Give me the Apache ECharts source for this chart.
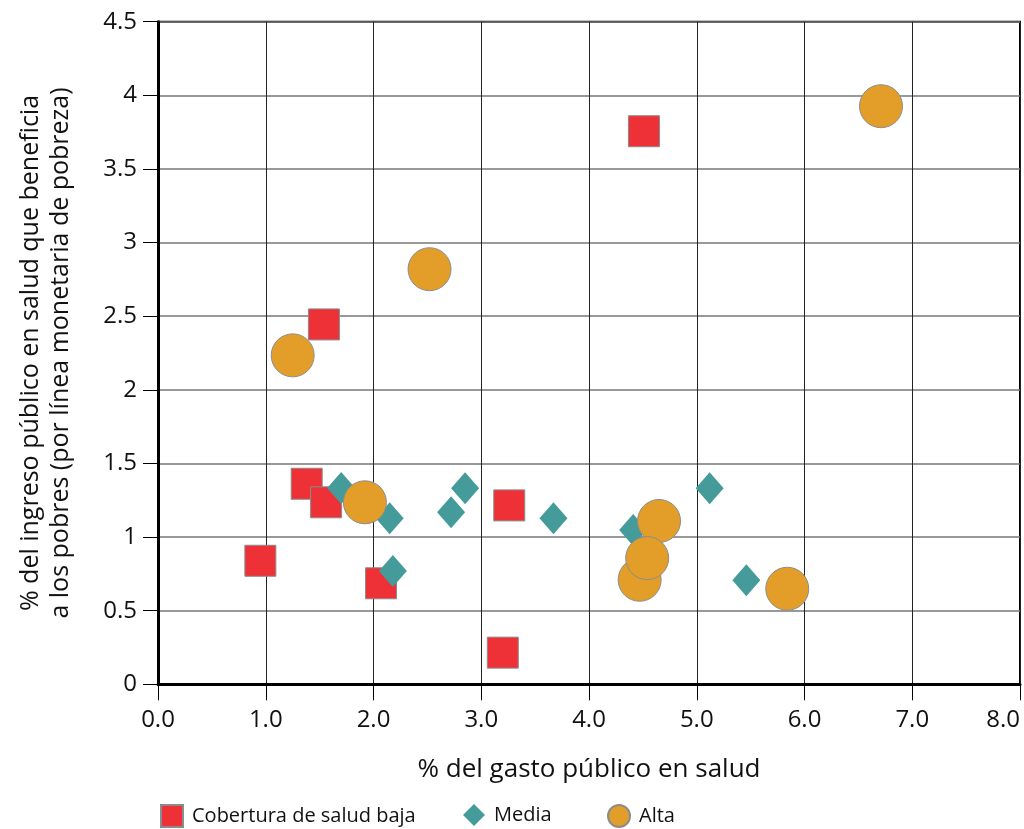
<!DOCTYPE html>
<html>
<head>
<meta charset="utf-8">
<script src="https://cdn.jsdelivr.net/npm/echarts@6/dist/echarts.min.js"></script>
<style>html,body{margin:0;padding:0;background:#fff}#c{width:1024px;height:829px}</style>
</head>
<body>
<div id="c"></div>
<script>
// Cobertura de salud baja (x: % gasto público en salud, y: % ingreso público en salud a pobres)
const bajaX = [1.54, 1.38, 1.56, 0.95, 2.07, 3.26, 3.20, 4.51];
const bajaY = [2.444, 1.362, 1.236, 0.839, 0.686, 1.215, 0.215, 3.756];
// Media
const mediaX = [1.70, 2.15, 2.18, 2.72, 2.85, 3.67, 4.41, 5.12, 5.46];
const mediaY = [1.333, 1.127, 0.769, 1.168, 1.331, 1.127, 1.048, 1.331, 0.706];
// Alta
const altaX = [1.25, 1.92, 2.52, 4.65, 4.47, 4.54, 5.84, 6.71];
const altaY = [2.234, 1.236, 2.819, 1.109, 0.710, 0.857, 0.649, 3.926];

const seriesNames = ['Cobertura de salud baja', 'Media', 'Alta'];
const xTicks = [0, 1, 2, 3, 4, 5, 6, 7, 8];
const yTicks = [0, 0.5, 1, 1.5, 2, 2.5, 3, 3.5, 4, 4.5];

const FONT = 'Open Sans';
const pairs = (xs, ys) => xs.map((x, i) => [x, ys[i]]);

const chart = echarts.init(document.getElementById('c'));
const legendBase = {
  orient: 'horizontal', top: 804, padding: 0, itemWidth: 22, itemHeight: 22,
  textStyle: { fontFamily: FONT, fontSize: 20, color: '#111', padding: [0, 0, 0, 4] }
};
chart.setOption({
  animation: false,
  grid: { left: 158, right: 4, top: 21.7, bottom: 144.7, outerBoundsMode: 'none', containLabel: false,
          show: true, borderColor: '#000', borderWidth: 2, backgroundColor: 'transparent' },
  legend: [
    Object.assign({}, legendBase, { left: 160, data: [{ name: seriesNames[0], icon: 'rect' }] }),
    Object.assign({}, legendBase, { left: 463, data: [{ name: seriesNames[1], icon: 'diamond' }] }),
    Object.assign({}, legendBase, { left: 607, data: [{ name: seriesNames[2], icon: 'circle' }] })
  ],
  xAxis: {
    type: 'value', min: xTicks[0], max: xTicks[xTicks.length - 1], interval: 1,
    name: '% del gasto público en salud', nameLocation: 'middle', nameGap: 72,
    nameTextStyle: { fontFamily: FONT, fontSize: 26, color: '#111' },
    axisLine: { show: true, onZero: false, lineStyle: { color: '#000', width: 3 } },
    axisTick: { show: true, length: 16, lineStyle: { color: '#000', width: 1 } },
    axisLabel: { fontFamily: FONT, fontSize: 24, color: '#111', margin: 24, alignMaxLabel: 'right',
                 formatter: v => v.toFixed(1) },
    splitLine: { show: true, lineStyle: { color: '#222', width: 1 } }
  },
  yAxis: {
    type: 'value', min: yTicks[0], max: yTicks[yTicks.length - 1], interval: 0.5,
    name: '% del ingreso público en salud que beneficia\na los pobres (por línea monetaria de pobreza)',
    nameLocation: 'middle', nameGap: 82, nameRotate: 90,
    nameTextStyle: { fontFamily: FONT, fontSize: 25, color: '#111', lineHeight: 30 },
    axisLine: { show: true, onZero: false, lineStyle: { color: '#000', width: 3 } },
    axisTick: { show: true, length: 15, lineStyle: { color: '#000', width: 1 } },
    axisLabel: { fontFamily: FONT, fontSize: 24, color: '#111', margin: 21 },
    splitLine: { show: true, lineStyle: { color: '#777', width: 1.5 } }
  },
  series: [
    {
      name: seriesNames[0], type: 'scatter', symbol: 'rect', symbolSize: 31, z: 2,
      itemStyle: { color: '#EE3137', borderColor: '#8c8c8c', borderWidth: 1, opacity: 1 },
      data: pairs(bajaX, bajaY)
    },
    {
      name: seriesNames[1], type: 'scatter', symbol: 'diamond', symbolSize: [28, 32], z: 3,
      itemStyle: { color: '#459B9A', opacity: 1 },
      data: pairs(mediaX, mediaY)
    },
    {
      name: seriesNames[2], type: 'scatter', symbol: 'circle', symbolSize: 43, z: 4,
      itemStyle: { color: '#E29E28', borderColor: '#8c8c8c', borderWidth: 1, opacity: 1 },
      data: pairs(altaX, altaY)
    }
  ]
});
</script>
</body>
</html>
